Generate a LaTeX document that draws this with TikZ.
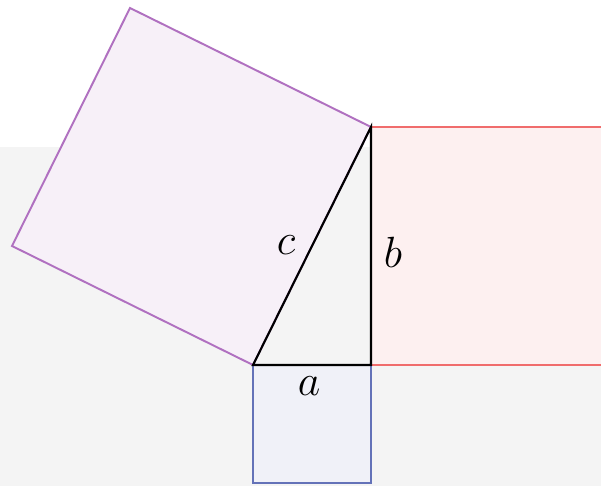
\documentclass[tikz,border=0pt]{standalone}
\usepackage{tikz}
\usetikzlibrary{calc}
\definecolor{csqline}{HTML}{B070C0}
\definecolor{csqfill}{HTML}{F7F0F8}
\definecolor{bsqline}{HTML}{F06C6C}
\definecolor{bsqfill}{HTML}{FDF0F0}
\definecolor{asqline}{HTML}{6472B8}
\definecolor{asqfill}{HTML}{F0F1F8}
\definecolor{backgray}{HTML}{F4F4F4}
\tikzset{
      squarebox/.style={
        line width=1.1pt,
        line join=miter
      },
      sidelabel/.style={
        inner sep=0pt,
        font=\fontsize{39}{39}\selectfont
      }
    }
\begin{document}
\begin{tikzpicture}[x=0.02cm,y=-0.02cm]
    \useasboundingbox (0,0) rectangle (601,486);
    \fill[backgray] (0,147) rectangle (601,486);
    \fill[white] (0,0) rectangle (601,147);
    % vertices of the triangle
    \coordinate (A) at (253,365);
    \coordinate (C) at (371,365);
    \coordinate (B) at (371,127);
    % squares on the sides
    \draw[squarebox, draw=csqline, fill=csqfill] (A) -- (B) -- ($(B)+(-241,-119)$) -- ($(A)+(-241,-119)$) -- cycle;
    \begin{scope}
      \clip (0,0) rectangle (601,486);
      \draw[squarebox, draw=bsqline, fill=bsqfill] (B) -- (C) -- ($(C)+(238,0)$) -- ($(B)+(238,0)$) -- cycle;
    \end{scope}
    \draw[squarebox, draw=asqline, fill=asqfill] (A) -- (C) -- ($(C)+(0,118)$) -- ($(A)+(0,118)$) -- cycle;
    \draw[line width=1.2pt, black] (A) -- (B) -- (C) -- cycle;
    \node[sidelabel] (lc) at (286,245) {$c$};
    \node[sidelabel] (lb) at (393,252) {$b$};
    \node[sidelabel] (la) at (309,386) {$a$};
    \end{tikzpicture}
\end{document}
